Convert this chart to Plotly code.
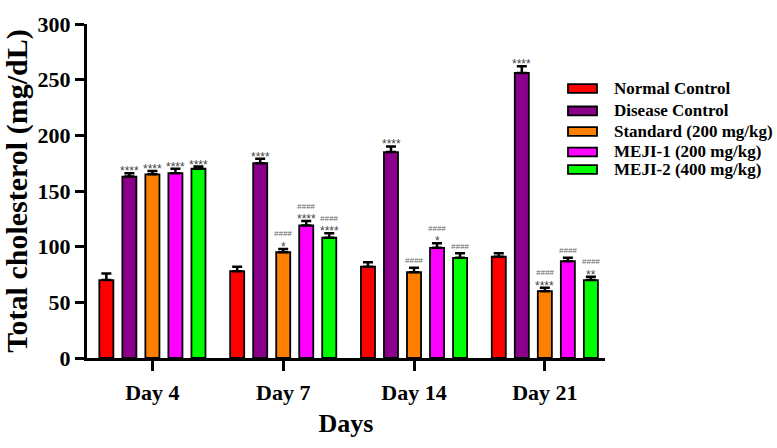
import plotly.graph_objects as go

days = ["Day 4", "Day 7", "Day 14", "Day 21"]
groups = ["Normal Control", "Disease Control", "Standard (200 mg/kg)",
          "MEJI-1 (200 mg/kg)", "MEJI-2 (400 mg/kg)"]
colors = ["#FF0000", "#8B008B", "#FF8000", "#FF00FF", "#00FF00"]

normal_control = [70, 78, 82, 91]
disease_control = [163, 175, 185, 256]
standard = [165, 95, 77, 60]
meji1 = [166, 119, 99, 87]
meji2 = [170, 108, 90, 70]

normal_err = [6, 4, 4, 3]
disease_err = [3, 4, 5, 6]
standard_err = [3, 3, 4, 3]
meji1_err = [4, 4, 4, 3]
meji2_err = [2, 4, 4, 3]

# significance vs normal control (stars) and vs disease control (hashes)
normal_stars = ["", "", "", ""]
disease_stars = ["****", "****", "****", "****"]
standard_stars = ["****", "*", "", "****"]
meji1_stars = ["****", "****", "*", ""]
meji2_stars = ["****", "****", "", "**"]

normal_hash = ["", "", "", ""]
disease_hash = ["", "", "", ""]
standard_hash = ["", "####", "####", "####"]
meji1_hash = ["", "####", "####", "####"]
meji2_hash = ["", "####", "####", "####"]

values = [normal_control, disease_control, standard, meji1, meji2]
errors = [normal_err, disease_err, standard_err, meji1_err, meji2_err]
stars = [normal_stars, disease_stars, standard_stars, meji1_stars, meji2_stars]
hashes = [normal_hash, disease_hash, standard_hash, meji1_hash, meji2_hash]

fig = go.Figure()
for name, col, vals, errs in zip(groups, colors, values, errors):
    fig.add_trace(go.Bar(
        x=days, y=vals, name=name,
        marker=dict(color=col, line=dict(color="black", width=1.8)),
        error_y=dict(type="data", symmetric=False, array=errs,
                     arrayminus=[0] * len(errs), color="black",
                     thickness=2.5, width=5),
        showlegend=False,
    ))

annotations = []
slot = 23
for j in range(len(groups)):
    vals, errs, st, hs = values[j], errors[j], stars[j], hashes[j]
    for i, d in enumerate(days):
        top = vals[i] + errs[i]
        if st[i]:
            annotations.append(dict(
                x=d, y=top, xref="x", yref="y",
                xshift=(j - 2) * slot, yshift=2, yanchor="middle",
                text=st[i], showarrow=False,
                font=dict(family="Liberation Sans", size=12, color="#444444"),
            ))
        if hs[i]:
            annotations.append(dict(
                x=d, y=top, xref="x", yref="y",
                xshift=(j - 2) * slot, yshift=(15 if st[i] else 7),
                yanchor="middle",
                text="<i>" + hs[i] + "</i>", showarrow=False,
                font=dict(family="Liberation Sans", size=8, color="#666666"),
            ))

# manual legend
shapes = []
L, W_, H_ = 87, 518, 342
def px(xp):
    return (xp - L) / W_
def py(yp):
    return (358 - yp) / H_
leg_y = [82, 105, 126, 147, 165]
for name, col, yc in zip(groups, colors, leg_y):
    shapes.append(dict(type="rect", xref="paper", yref="paper",
                       x0=px(568), x1=px(597), y0=py(yc + 4.5), y1=py(yc - 4.5),
                       fillcolor=col, line=dict(color="black", width=1.8)))
    annotations.append(dict(x=px(612), y=py(yc), xref="paper", yref="paper",
                            xanchor="left", yanchor="middle", text=name,
                            showarrow=False,
                            font=dict(family="Liberation Serif", size=17,
                                      color="black", weight="bold")))

fig.update_layout(
    width=777, height=448,
    margin=dict(l=87, r=172, t=16, b=90),
    plot_bgcolor="white", paper_bgcolor="white",
    barmode="group", bargap=0.12, bargroupgap=0.39,
    annotations=annotations, shapes=shapes,
    font=dict(family="Liberation Serif", color="black"),
    xaxis=dict(
        type="category", range=[-0.5, 3.46],
        showline=True, linewidth=3, linecolor="black",
        ticks="outside", ticklen=10, tickwidth=3, tickcolor="black",
        ticklabelstandoff=3,
        tickfont=dict(family="Liberation Serif", size=22, weight="bold"),
        title=dict(text="Days", standoff=10,
                   font=dict(family="Liberation Serif", size=26, weight="bold")),
        showgrid=False, zeroline=False,
    ),
    yaxis=dict(
        range=[0, 300], dtick=50, tick0=0,
        showline=True, linewidth=3, linecolor="black",
        ticks="outside", ticklen=9, tickwidth=3, tickcolor="black",
        tickfont=dict(family="Liberation Serif", size=22, weight="bold"),
        title=dict(text="Total cholesterol (mg/dL)", standoff=4,
                   font=dict(family="Liberation Serif", size=30, weight="bold")),
        showgrid=False, zeroline=False,
    ),
)

fig.write_html("out.html")
